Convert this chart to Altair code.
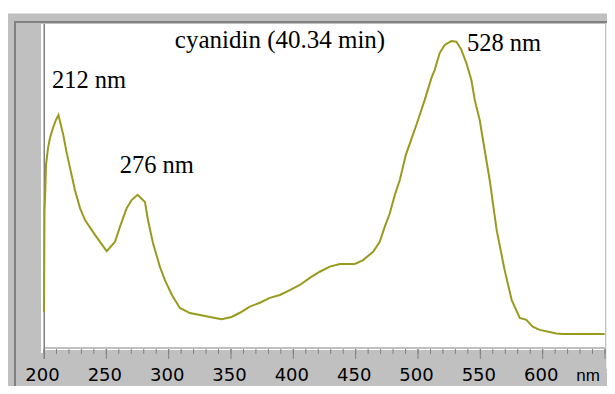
import altair as alt
import pandas as pd

# ---- data ----
wavelength = [200.0, 200.4, 200.8, 201.6, 203.2, 204.8, 207.2, 209.6, 211.6, 215.5,
              218.2, 224.8, 228.9, 232.9, 240.9, 250.3, 256.9, 260.9, 266.3, 270.3,
              275.0, 281.0, 283.4, 287.4, 293.0, 297.0, 302.6, 309.0, 317.0, 325.1,
              333.1, 342.4, 350.5, 357.1, 365.1, 373.1, 381.2, 389.2, 397.2, 405.2,
              413.2, 421.2, 429.3, 437.3, 449.3, 456.0, 464.0, 469.3, 473.3, 477.4,
              481.4, 485.4, 490.2, 495.8, 498.2, 505.4, 510.8, 513.4, 517.4, 521.4,
              526.8, 530.8, 534.8, 538.8, 542.8, 545.5, 549.5, 551.7, 557.5, 563.1,
              569.5, 575.1, 581.6, 586.9, 592.0, 597.6, 611.0, 616.0, 649.7]
absorbance = [0.108, 0.424, 0.455, 0.563, 0.616, 0.647, 0.678, 0.703, 0.718, 0.656,
              0.601, 0.486, 0.430, 0.393, 0.347, 0.297, 0.325, 0.372, 0.430, 0.455,
              0.471, 0.449, 0.393, 0.322, 0.248, 0.207, 0.161, 0.121, 0.105, 0.099,
              0.093, 0.086, 0.093, 0.106, 0.125, 0.137, 0.152, 0.161, 0.176, 0.192,
              0.214, 0.233, 0.249, 0.257, 0.257, 0.269, 0.295, 0.326, 0.372, 0.414,
              0.471, 0.517, 0.594, 0.656, 0.682, 0.765, 0.833, 0.858, 0.910, 0.935,
              0.947, 0.945, 0.920, 0.879, 0.827, 0.765, 0.703, 0.651, 0.517, 0.362,
              0.238, 0.146, 0.090, 0.084, 0.063, 0.053, 0.042, 0.040, 0.040]

peak_nm = [212, 276, 528]
peak_abs = [0.718, 0.471, 0.947]
peak_text = ["212 nm", "276 nm", "528 nm"]

title_text = "cyanidin (40.34 min)"
unit_text = "nm"
minor_ticks = list(range(200, 651, 10))
major_ticks = list(range(200, 651, 50))
tick_labels = ["200", "250", "300", "350", "400", "450", "500", "550", "600"]
label_pos = [200, 250, 300, 350, 400, 450, 500, 550, 600]

spec = pd.DataFrame({"nm": wavelength, "abs": absorbance})
peaks = pd.DataFrame({"nm": peak_nm, "abs": peak_abs, "label": peak_text})
minor_df = pd.DataFrame({"nm": minor_ticks})
major_df = pd.DataFrame({"nm": major_ticks})
lab_df = pd.DataFrame({"nm": label_pos, "t": tick_labels})
one = pd.DataFrame({"k": [0]})

W, H = 561, 323
xscale = alt.Scale(domain=[200, 650], nice=False, zero=False)
yscale = alt.Scale(domain=[0, 1], nice=False, zero=False)


def box(x, x2, y, y2, color):
    return alt.Chart(one).mark_rect(color=color).encode(
        x=alt.value(x), x2=alt.value(x2), y=alt.value(y), y2=alt.value(y2))


frame = [
    box(-37, 575, -11, 380, "#c0c0c0"),
    box(-37, 575, -11, -10, "#dedede"),
    box(-30, 566, -3, -1, "#808080"),
    box(-30, -28, -3, 380, "#808080"),
    box(0, W, 0, H, "#ffffff"),
    box(-3, -1, 0, 329, "#ffffff"),
    box(562, 564, -1, 345, "#ececec"),
    box(0, W, 325, 326, "#ffffff"),
    box(0, 1, 0, 335, "#808080"),
]

minor = alt.Chart(minor_df).mark_rule(color="#808080", strokeWidth=1).encode(
    x=alt.X("nm:Q", scale=xscale, axis=None), y=alt.value(325), y2=alt.value(330))
major = alt.Chart(major_df).mark_rule(color="#808080", strokeWidth=1).encode(
    x=alt.X("nm:Q", scale=xscale, axis=None), y=alt.value(325), y2=alt.value(335))
ticklab = alt.Chart(lab_df).mark_text(
    font="DejaVu Sans", fontSize=18, align="center", baseline="alphabetic", color="#000000", dx=-1.5
).encode(x=alt.X("nm:Q", scale=xscale, axis=None), y=alt.value(357), text="t:N")

line = alt.Chart(spec).mark_line(color="#9a9a1e", strokeWidth=2).encode(
    x=alt.X("nm:Q", scale=xscale, axis=None),
    y=alt.Y("abs:Q", scale=yscale, axis=None),
)

offsets = {"212 nm": (-7, -27), "276 nm": (-19, -22), "528 nm": (14, 10)}
labels = []
for t in peak_text:
    dx, dy = offsets[t]
    labels.append(
        alt.Chart(peaks).transform_filter(alt.datum.label == t)
        .mark_text(font="Liberation Serif", fontSize=24.5, align="left", baseline="alphabetic",
                   color="#000000", dx=dx, dy=dy)
        .encode(x=alt.X("nm:Q", scale=xscale, axis=None),
                y=alt.Y("abs:Q", scale=yscale, axis=None), text="label:N")
    )

title = alt.Chart(pd.DataFrame({"t": [title_text]})).mark_text(
    font="Liberation Serif", fontSize=25, align="center", baseline="alphabetic", color="#000000"
).encode(x=alt.value(236), y=alt.value(24), text="t:N")

unit = alt.Chart(pd.DataFrame({"t": [unit_text]})).mark_text(
    font="Liberation Sans", fontSize=17, align="center", baseline="alphabetic", color="#000000"
).encode(x=alt.value(544), y=alt.value(357), text="t:N")

chart = alt.layer(*frame, minor, major, ticklab, line, *labels, title, unit).properties(
    width=W, height=H,
    autosize=alt.AutoSizeParams(type="none"),
    padding={"left": 36, "top": 16, "right": 2, "bottom": 39},
    background="#ffffff",
).configure_view(stroke=None)

chart.save("out.html", embed_options={"renderer": "svg", "actions": False})
